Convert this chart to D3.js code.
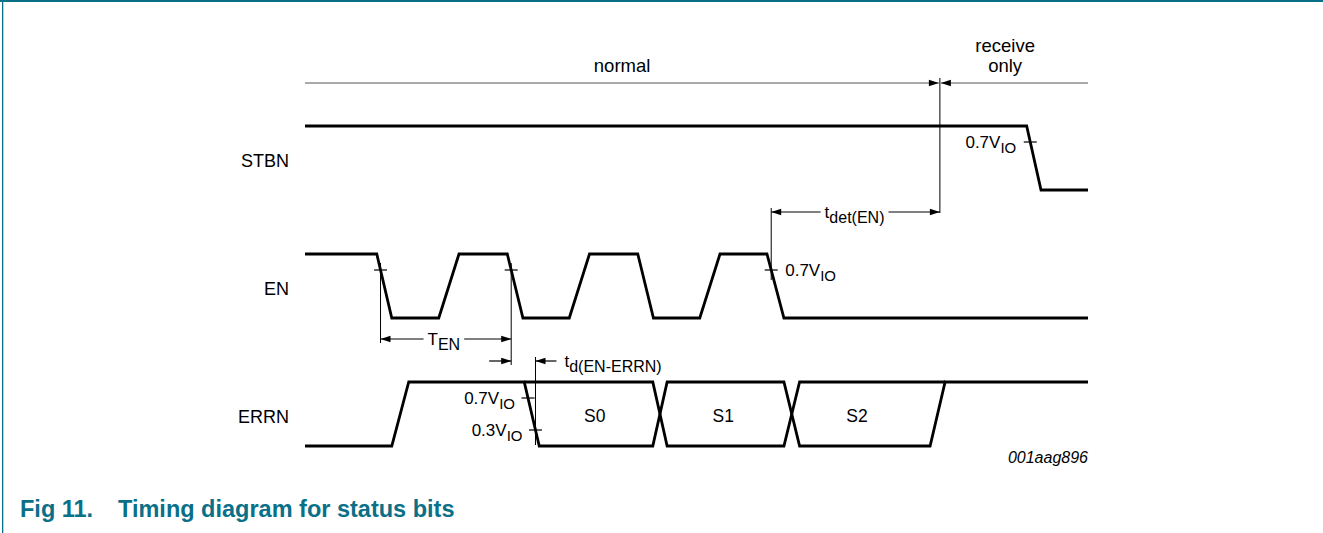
<!DOCTYPE html>
<head>
	<meta charset="utf-8">
	<script src="https://d3js.org/d3.v7.min.js"></script>
	<style>
		body { margin: 0; background: #fff; overflow: hidden; }
		svg { display: block; }
		text { font-family: "Liberation Sans", Arial, sans-serif; }
	</style>
</head>

<body>
	<script type="text/javascript">
		var width = 1323;
		var height = 533;

		// signal rows, top to bottom
		var signals = ["STBN", "EN", "ERRN"];

		// waveforms as [time, level] pairs (time in arbitrary units, level 0..1)
		var stbnWave = [[0, 1], [110.6, 1], [112.8, 0], [120, 0]];
		var enWave = [[0, 1], [11, 1], [13.3, 0], [20.5, 0], [23.6, 1], [31, 1], [33.4, 0], [40.5, 0],
			[43.6, 1], [51, 1], [53.4, 0], [60.5, 0], [63.6, 1], [70.8, 1], [73.4, 0], [120, 0]];
		// ERRN: the real line, then the complementary bus line between the status cells
		var errnWave = [[0, 0], [13.3, 0], [15.9, 1], [33.6, 1], [35.9, 0], [53.3, 0], [55.5, 1],
			[73.4, 1], [75.8, 0], [95.8, 0], [98.1, 1], [120, 1]];
		var errnBus = [[33.6, 1], [53.3, 1], [55.5, 0], [73.4, 0], [75.8, 1], [98.1, 1]];
		var busLabels = ["S0", "S1", "S2"];
		var busCentres = [44.4, 64.1, 84.6];

		// modes across the top
		var modeLabels = [["normal"], ["receive", "only"]];
		var modeCentres = [48.6, 107.3];
		var modeBoundary = 97.3;

		// switching thresholds drawn on the edges
		var thrHigh = 0.75, thrLow = 0.25;
		var thrHighText = "0.7V", thrLowText = "0.3V", thrSub = "IO";

		var svg = d3.select('body').append('svg')
			.attr('width', width)
			.attr('height', height);

		var x = d3.scaleLinear().domain([0, 120]).range([305, 1088]);
		var row = d3.scalePoint().domain(signals).range([158, 414]);
		var lev = d3.scaleLinear().domain([0, 1]).range([32, -32]);

		function yOf(sig, v) { return row(sig) + lev(v); }
		var line = function(sig) {
			return d3.line().x(function(d) { return x(d[0]); }).y(function(d) { return yOf(sig, d[1]); });
		};
		// time where the edge p0->p1 crosses level v
		function cross(p0, p1, v) { return p0[0] + (v - p0[1]) / (p1[1] - p0[1]) * (p1[0] - p0[0]); }
		function falls(wave) {
			var out = [];
			for (var i = 1; i < wave.length; i++) if (wave[i - 1][1] > wave[i][1]) out.push([wave[i - 1], wave[i]]);
			return out;
		}

		// frame + caption
		var teal = "#0a7088";
		svg.append('rect').attr('x', 0).attr('y', 0).attr('width', width).attr('height', 2).attr('fill', teal);
		svg.append('rect').attr('x', 2).attr('y', 0).attr('width', 1.3).attr('height', height).attr('fill', teal);
		svg.append('text').attr('x', 20).attr('y', 517).attr('fill', teal).attr('font-weight', 'bold')
			.attr('font-size', 23.5).text("Fig 11.");
		svg.append('text').attr('x', 118).attr('y', 517).attr('fill', teal).attr('font-weight', 'bold')
			.attr('font-size', 23.5).text("Timing diagram for status bits");

		// helpers
		function vline(px, y1, y2) {
			svg.append('line').attr('x1', px).attr('x2', px).attr('y1', y1).attr('y2', y2)
				.attr('stroke', '#000').attr('stroke-width', 1);
		}
		function hline(x1, x2, y, col) {
			svg.append('line').attr('x1', x1).attr('x2', x2).attr('y1', y).attr('y2', y)
				.attr('stroke', col || '#000').attr('stroke-width', 1.2);
		}
		function head(tip, y, dir) { // dir: +1 points right, -1 points left
			svg.append('path')
				.attr('d', d3.line()([[tip, y], [tip - dir * 10, y - 3.2], [tip - dir * 10, y + 3.2]]) + 'Z')
				.attr('fill', '#000');
		}
		function label(px, py, main, sub, anchor, size, subSize) {
			var t = svg.append('text').attr('x', px).attr('y', py).attr('text-anchor', anchor || 'start')
				.attr('font-size', size || 17).attr('fill', '#000');
			t.append('tspan').text(main);
			if (sub) t.append('tspan').attr('dy', 5).attr('font-size', subSize || 15).text(sub);
			return t;
		}
		function tick(px, py) { hline(px - 6.5, px + 6.5, py); }
		// dimension arrow with the label sitting in a gap of the line
		function dimension(x1, x2, y, main, sub, cx, headL, headR, col) {
			var t = label(cx, y + 6, main, sub, 'middle', 17, 16);
			var bb = t.node().getBBox();
			hline(x1, bb.x - 4, y, col);
			hline(bb.x + bb.width + 4, x2, y, col);
			if (headL) head(x1, y, -1);
			if (headR) head(x2, y, 1);
		}

		// signal names
		signals.forEach(function(s) {
			svg.append('text').attr('x', 289).attr('y', row(s) + 9).attr('text-anchor', 'end')
				.attr('font-size', 18).attr('fill', '#000').text(s);
		});

		// waveforms
		[[stbnWave, "STBN"], [enWave, "EN"], [errnWave, "ERRN"], [errnBus, "ERRN"]].forEach(function(w) {
			svg.append('path').datum(w[0]).attr('d', line(w[1])).attr('fill', 'none')
				.attr('stroke', '#000').attr('stroke-width', 2.8).attr('stroke-linejoin', 'miter');
		});
		busLabels.forEach(function(b, i) {
			svg.append('text').attr('x', x(busCentres[i])).attr('y', row("ERRN") + 8).attr('text-anchor', 'middle')
				.attr('font-size', 17.5).attr('fill', '#000').text(b);
		});

		// mode bar
		var modeY = row("STBN") - 75;
		var bx = x(modeBoundary);
		hline(x(0), bx - 1, modeY, '#555');
		head(bx - 1, modeY, 1);
		hline(bx + 1, x(120), modeY, '#555');
		head(bx + 1, modeY, -1);
		vline(bx, modeY - 5, row("EN") - 73);
		modeLabels.forEach(function(m, i) {
			m.forEach(function(s, j) {
				svg.append('text').attr('x', x(modeCentres[i])).attr('y', modeY - 11 - (m.length - 1 - j) * 20)
					.attr('text-anchor', 'middle').attr('font-size', 18.5).attr('fill', '#000').text(s);
			});
		});

		// STBN threshold
		var sf = falls(stbnWave)[0];
		var sx = x(cross(sf[0], sf[1], thrHigh)), sy = yOf("STBN", thrHigh);
		tick(sx, sy);
		label(sx - 14, sy + 6, thrHighText, thrSub, 'end');

		// EN thresholds, T_EN and t_det(EN)
		var ef = falls(enWave);
		var ey = yOf("EN", thrHigh);
		var ex = ef.map(function(e) { return x(cross(e[0], e[1], thrHigh)); });
		var tenY = row("EN") + 53;
		var tdY = row("ERRN") - 53;
		var tdetY = row("EN") - 74;
		tick(ex[0], ey); tick(ex[1], ey); tick(ex[3], ey);
		vline(ex[0], ey - 7, tenY + 4);
		vline(ex[1], ey - 7, tdY + 4);
		vline(ex[3], tdetY - 4, ey + 10);
		label(ex[3] + 14, ey + 6, thrHighText, thrSub, 'start');
		dimension(ex[0], ex[1], tenY, "T", "EN", (ex[0] + ex[1]) / 2 - 2, true, true);
		dimension(ex[3], bx, tdetY, "t", "det(EN)", (ex[3] + bx) / 2 - 1, true, true);

		// ERRN thresholds and t_d(EN-ERRN)
		var rf = falls(errnWave)[0];
		var rxH = x(cross(rf[0], rf[1], thrHigh)), ryH = yOf("ERRN", thrHigh);
		var rxL = x(cross(rf[0], rf[1], thrLow)), ryL = yOf("ERRN", thrLow);
		tick(rxH, ryH);
		tick(rxL, ryL);
		label(rxH - 13, ryH + 6, thrHighText, thrSub, 'end');
		label(rxL - 13, ryL + 6, thrLowText, thrSub, 'end');
		vline(rxL, tdY - 4, yOf("ERRN", 0) - 1);
		hline(ex[1] - 22, ex[1], tdY);
		head(ex[1], tdY, 1);
		hline(rxL, rxL + 21, tdY);
		head(rxL, tdY, -1);
		label(rxL + 29, tdY + 6, "t", "d(EN-ERRN)", 'start', 17, 16);

		svg.append('text').attr('x', 1088).attr('y', 463).attr('text-anchor', 'end')
			.attr('font-size', 16).attr('font-style', 'italic').attr('fill', '#000').text("001aag896");
	</script>
</body>
